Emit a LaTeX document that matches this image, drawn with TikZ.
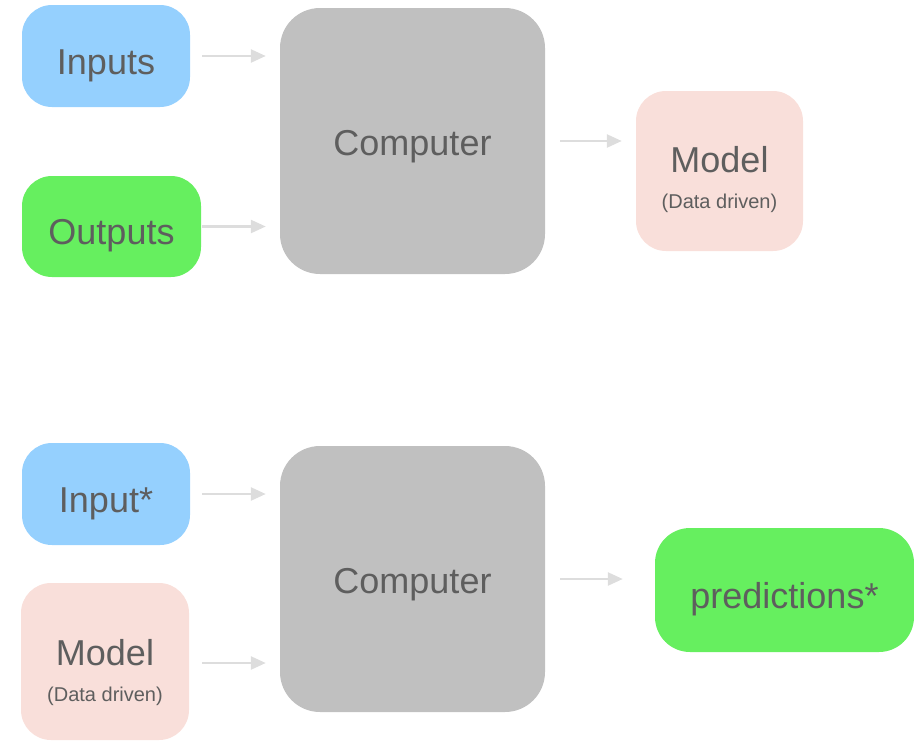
\documentclass[tikz,border=0pt]{standalone}
\usepackage{fontspec}
\setmainfont{Liberation Sans}
\usetikzlibrary{arrows.meta}
\definecolor{cblue}{HTML}{95D0FE}
\definecolor{cgreen}{HTML}{66EF5F}
\definecolor{cpink}{HTML}{F9DFDA}
\definecolor{cgray}{HTML}{C0C0C0}
\definecolor{carrow}{HTML}{DDDDDD}
\definecolor{ctext}{HTML}{5E5E5E}
\tikzset{
  box/.style={draw=none, inner sep=0pt, rounded corners=30pt, text=ctext,
    font=\fontsize{36}{40}\selectfont, text height=36pt, text depth=0pt},
  bigbox/.style={box, fill=cgray, minimum width=265pt, minimum height=266pt, rounded corners=40pt,
    text height=28pt},
  bigtxt/.style={inner sep=0pt, anchor=base, text=ctext, font=\fontsize{36}{40}\selectfont},
  smalltxt/.style={inner sep=0pt, anchor=base, text=ctext, font=\fontsize{20}{24}\selectfont},
  conn/.style={draw=carrow, line width=2.5pt, -{Triangle[length=15pt,width=13pt]}},
}
\begin{document}
\begin{tikzpicture}[x=1pt,y=-1pt]
\useasboundingbox (0,0) rectangle (914,740);
% top diagram
\node[box, fill=cblue, minimum width=168pt, minimum height=102pt] (inp) at (106,56) {Inputs};
\node[box, fill=cgreen, minimum width=179pt, minimum height=101pt] (out) at (111.5,226.5) {Outputs};
\node[bigbox] (comp1) at (412.5,141) {Computer};
\node[box, fill=cpink, minimum width=167pt, minimum height=160pt] (model1) at (719.5,171) {};
\node[bigtxt] (model1a) at ([yshift=-1pt]model1.center) {Model};
\node[smalltxt] (model1b) at ([yshift=-37pt]model1.center) {(Data driven)};
\draw[conn, shorten <=12pt, shorten >=14pt] (inp.east) -- (inp.east -| comp1.west);
\draw[conn, shorten <=1pt, shorten >=14pt] (out.east) -- (out.east -| comp1.west);
\draw[conn, shorten <=15pt, shorten >=14pt] (comp1.east) -- (comp1.east -| model1.west);
% bottom diagram
\node[box, fill=cblue, minimum width=168pt, minimum height=102pt] (inp2) at (106,494) {Input*};
\node[box, fill=cpink, minimum width=168pt, minimum height=157pt] (model2) at (105,661.5) {};
\node[bigtxt] (model2a) at ([yshift=-3.5pt]model2.center) {Model};
\node[smalltxt] (model2b) at ([yshift=-40pt]model2.center) {(Data driven)};
\node[bigbox] (comp2) at (412.5,579) {Computer};
\node[box, fill=cgreen, minimum width=259pt, minimum height=124pt, rounded corners=35pt] (pred) at (784.5,590) {predictions*};
\draw[conn, shorten <=12pt, shorten >=14pt] (inp2.east) -- (inp2.east -| comp2.west);
\draw[conn, shorten <=13pt, shorten >=14pt] ([yshift=-1.5pt]model2.east) -- ([yshift=-1.5pt]model2.east -| comp2.west);
\draw[conn, shorten <=15pt, shorten >=32pt] (comp2.east) -- (comp2.east -| pred.west);
\end{tikzpicture}
\end{document}
